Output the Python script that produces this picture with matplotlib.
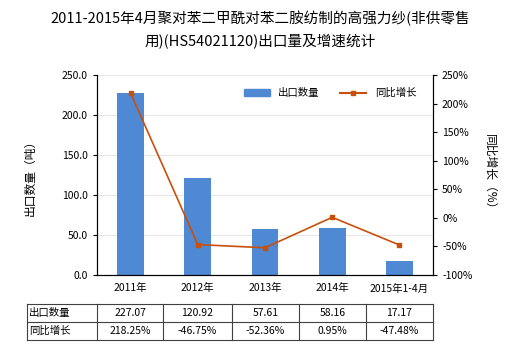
import matplotlib
matplotlib.use('Agg')
import numpy as np
import matplotlib.pyplot as plt
from matplotlib.lines import Line2D
from matplotlib.patches import Patch

plt.rcParams['font.family'] = ['Noto Sans CJK SC', 'DejaVu Sans']

years = ['2011年', '2012年', '2013年', '2014年', '2015年1-4月']
qty = [227.07, 120.92, 57.61, 58.16, 17.17]
growth = [218.25, -46.75, -52.36, 0.95, -47.48]
qty_labels = ['227.07', '120.92', '57.61', '58.16', '17.17']
growth_labels = ['218.25%', '-46.75%', '-52.36%', '0.95%', '-47.48%']

W, H = 520, 350
fig = plt.figure(figsize=(5.2, 3.5), dpi=100)
L, R, T, B = 97, 433, 75, 275
ax = fig.add_axes([L / W, 1 - B / H, (R - L) / W, (B - T) / H])
ax2 = ax.twinx()

x = np.arange(len(years))
ax.bar(x, qty, width=0.4, color='#4f88d3', zorder=2)
ax.set_xlim(-0.5, len(years) - 0.5)
ax.set_ylim(0, 250)
ax.set_yticks(np.arange(0, 251, 50))
ax.set_yticklabels(['%.1f' % v for v in np.arange(0, 251, 50)])
ax.yaxis.grid(True, color='#e6e6e6', linewidth=0.8, zorder=0)
ax.set_axisbelow(True)
ax.set_xticks(x)
ax.set_xticklabels(years)
ax.tick_params(axis='x', length=0, labelsize=7.5, pad=6)
ax.tick_params(axis='y', labelsize=7.5, length=3)

ax2.plot(x, growth, color='#c8500a', marker='s', markersize=3, linewidth=1.2, zorder=3)
ax2.set_ylim(-100, 250)
ax2.set_yticks(np.arange(-100, 251, 50))
ax2.set_yticklabels(['%d%%' % v for v in np.arange(-100, 251, 50)])
ax2.tick_params(axis='y', labelsize=7.5, length=3)

for a in (ax, ax2):
    a.spines['top'].set_visible(False)
    for s in ('left', 'right', 'bottom'):
        a.spines[s].set_color('#000000')
        a.spines[s].set_linewidth(0.8)

fig.text(30 / W, 1 - 175 / H, '出口数量（吨）', rotation=90, ha='center', va='center', fontsize=8.5)
fig.text(490 / W, 1 - 175 / H, '同比增长（%）', rotation=-90, ha='center', va='center', fontsize=8.5)

fig.text(0.5, 1 - 18 / H, '2011-2015年4月聚对苯二甲酰对苯二胺纺制的高强力纱(非供零售',
         ha='center', va='center', fontsize=10.5)
fig.text(0.5, 1 - 42 / H, '用)(HS54021120)出口量及增速统计',
         ha='center', va='center', fontsize=10.5)

handles = [Patch(color='#4f88d3'),
           Line2D([0], [0], color='#c8500a', marker='s', markersize=3, linewidth=1.5)]
ax.legend(handles, ['出口数量', '同比增长'], ncol=2, frameon=False, fontsize=7.5,
          loc='center', bbox_to_anchor=((330 - L) / (R - L), (B - 93) / (B - T)),
          handlelength=2.5, columnspacing=2.0)

# table below the chart
cols = [27, 97, 163, 232, 299, 366, 433]
rows = [304, 322, 340]
for cx in cols:
    fig.add_artist(Line2D([cx / W, cx / W], [1 - rows[0] / H, 1 - rows[-1] / H], color='#404040', linewidth=0.8))
for ry in rows:
    fig.add_artist(Line2D([cols[0] / W, cols[-1] / W], [1 - ry / H, 1 - ry / H], color='#404040', linewidth=0.8))
for r, (name, vals) in enumerate([('出口数量', qty_labels), ('同比增长', growth_labels)]):
    yc = 1 - (rows[r] + rows[r + 1]) / 2 / H
    fig.text((cols[0] + 2) / W, yc, name, ha='left', va='center', fontsize=7.5)
    for i, v in enumerate(vals):
        fig.text((cols[i + 1] + cols[i + 2]) / 2 / W, yc, v, ha='center', va='center', fontsize=7.5)

fig.savefig('out.png', dpi=100)
